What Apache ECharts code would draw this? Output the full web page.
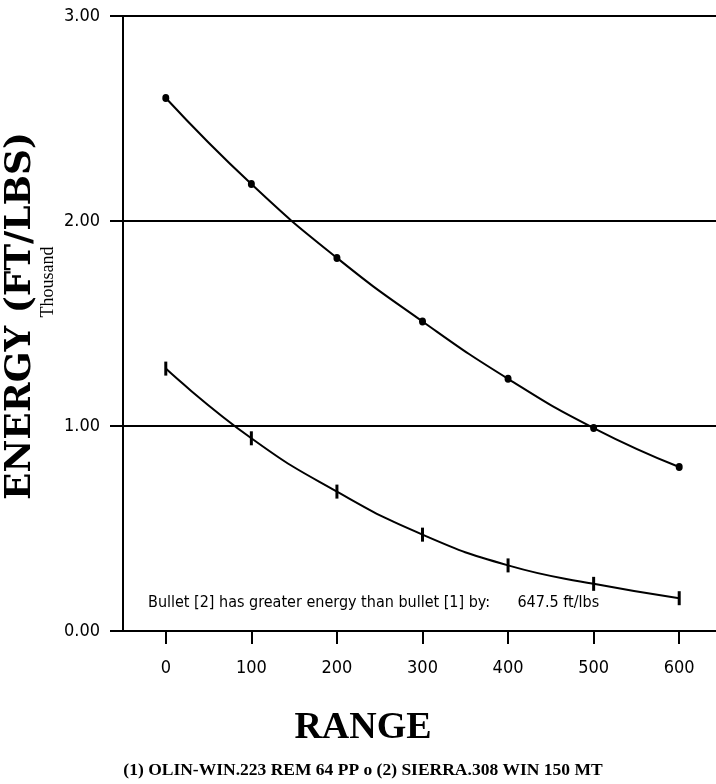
<!DOCTYPE html>
<html>
<head>
<meta charset="utf-8">
<script src="https://cdn.jsdelivr.net/npm/echarts@6/dist/echarts.min.js"></script>
<style>
html,body{margin:0;padding:0;background:#fff;}
#chart{width:716px;height:784px;}
</style>
</head>
<body>
<div id="chart"></div>
<script>
// Range in yards
var ranges = [0, 100, 200, 300, 400, 500, 600];
// Energy in thousand ft/lbs
var bullet1Energy = [1.28, 0.94, 0.68, 0.47, 0.32, 0.23, 0.16]; // (1) OLIN-WIN .223 REM 64 PP
var bullet2Energy = [2.60, 2.18, 1.82, 1.51, 1.23, 0.99, 0.80]; // (2) SIERRA .308 WIN 150 MT
var xTickLabels = ['0', '100', '200', '300', '400', '500', '600'];
var yTitle = 'ENERGY (FT/LBS)';
var yUnit = 'Thousand';
var xTitle = 'RANGE';
var footer = '(1) OLIN-WIN.223 REM 64 PP o (2) SIERRA.308 WIN 150 MT';
var note = 'Bullet [2] has greater energy than bullet [1] by:      647.5 ft/lbs';

function pairs(vals) { return ranges.map(function (r, i) { return [r, vals[i]]; }); }

var narrow = '"DejaVu Sans Condensed", "DejaVu Sans", sans-serif';

var chart = echarts.init(document.getElementById('chart'), null, {renderer: 'canvas'});
chart.setOption({
  animation: false,
  backgroundColor: '#fff',
  grid: {left: 123, right: 0, top: 16, bottom: 153, containLabel: false, outerBoundsMode: 'none'},
  xAxis: {
    type: 'value', min: -50, max: 643,
    name: '{r|' + xTitle + '}\n{f|' + footer + '}',
    nameLocation: 'middle', nameGap: 75, nameMoveOverlap: false,
    nameTextStyle: {
      padding: [0, 113, 0, 0],
      rich: {
        r: {fontFamily: 'Liberation Serif', fontWeight: 'bold', fontSize: 38, lineHeight: 44, color: '#000'},
        f: {fontFamily: 'Liberation Serif', fontWeight: 'bold', fontSize: 17.5, lineHeight: 40, color: '#000'}
      }
    },
    axisLine: {show: true, onZero: false, lineStyle: {color: '#000', width: 2}},
    axisTick: {show: true, length: 13, inside: false, customValues: ranges, lineStyle: {color: '#000', width: 2}},
    axisLabel: {
      customValues: ranges, margin: 28,
      formatter: function (v) { var i = ranges.indexOf(v); return i >= 0 ? xTickLabels[i] : ''; },
      fontFamily: narrow, fontSize: 18, color: '#000'
    },
    splitLine: {show: false}
  },
  yAxis: {
    type: 'value', min: 0, max: 3, interval: 1,
    name: '{e|' + yTitle + '}\n{t|' + yUnit + '}',
    nameLocation: 'middle', nameGap: 68, nameRotate: 90, nameMoveOverlap: false,
    nameTextStyle: {
      rich: {
        e: {fontFamily: 'DejaVu Serif', fontWeight: 'bold', fontSize: 36, lineHeight: 40, color: '#000', padding: [0, 0, 0, 15]},
        t: {fontFamily: 'Liberation Serif', fontSize: 18, lineHeight: 14, color: '#000', padding: [0, 0, 0, 83]}
      }
    },
    axisLine: {show: true, onZero: false, lineStyle: {color: '#000', width: 2}},
    axisTick: {show: true, length: 13, lineStyle: {color: '#000', width: 2}},
    axisLabel: {
      margin: 23,
      formatter: function (v) { return v.toFixed(2); },
      fontFamily: narrow, fontSize: 18, color: '#000'
    },
    splitLine: {show: true, lineStyle: {color: '#000', width: 2, type: 'solid'}}
  },
  graphic: [{
    type: 'text', left: 148, top: 595,
    style: {text: note, font: '16px "DejaVu Sans Condensed", sans-serif', fill: '#000'}
  }],
  series: [
    {
      name: '(2) SIERRA.308 WIN 150 MT', type: 'line', smooth: true,
      data: pairs(bullet2Energy),
      symbol: 'circle', symbolSize: [7, 8],
      lineStyle: {color: '#000', width: 2},
      itemStyle: {color: '#000'}
    },
    {
      name: '(1) OLIN-WIN.223 REM 64 PP', type: 'line', smooth: true,
      data: pairs(bullet1Energy),
      symbol: 'rect', symbolSize: [3, 14],
      lineStyle: {color: '#000', width: 2},
      itemStyle: {color: '#000'}
    }
  ]
});
</script>
</body>
</html>
